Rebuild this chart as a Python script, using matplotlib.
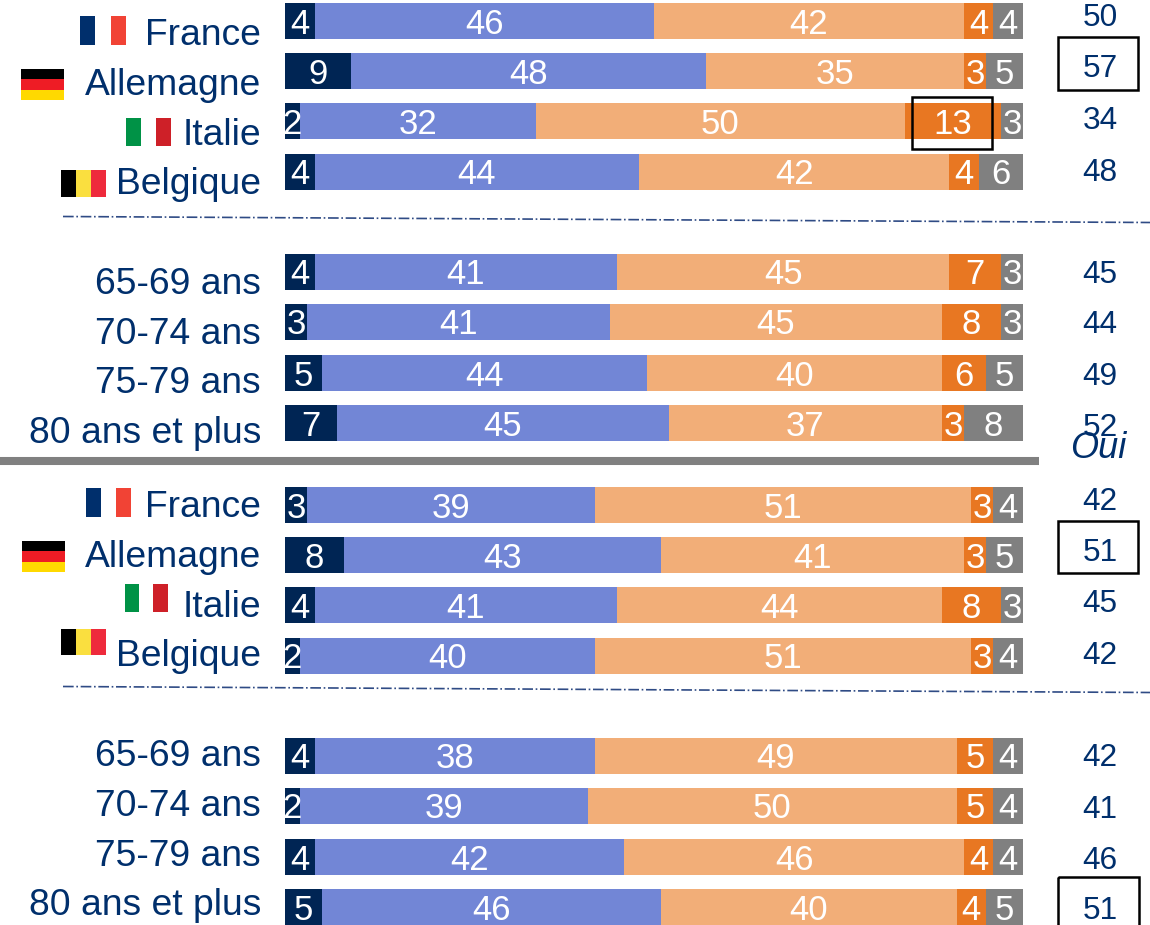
import matplotlib
matplotlib.use("Agg")
import numpy as np
from matplotlib import pyplot as plt
from matplotlib.patches import Rectangle

plt.rcParams["font.family"] = ["Liberation Sans", "DejaVu Sans"]

labels = ["France", "Allemagne", "Italie", "Belgique",
          "65-69 ans", "70-74 ans", "75-79 ans", "80 ans et plus",
          "France", "Allemagne", "Italie", "Belgique",
          "65-69 ans", "70-74 ans", "75-79 ans", "80 ans et plus"]

# the five answer shares, one list per segment
seg1 = [4, 9, 2, 4, 4, 3, 5, 7, 3, 8, 4, 2, 4, 2, 4, 5]
seg2 = [46, 48, 32, 44, 41, 41, 44, 45, 39, 43, 41, 40, 38, 39, 42, 46]
seg3 = [42, 35, 50, 42, 45, 45, 40, 37, 51, 41, 44, 51, 49, 50, 46, 40]
seg4 = [4, 3, 13, 4, 7, 8, 6, 3, 3, 3, 8, 3, 5, 5, 4, 4]
seg5 = [4, 5, 3, 6, 3, 3, 5, 8, 4, 5, 3, 4, 4, 4, 4, 5]
oui = [50, 57, 34, 48, 45, 44, 49, 52, 42, 51, 45, 42, 42, 41, 46, 51]

colors = ["#002554", "#7286D6", "#F2AE78", "#E87722", "#808080"]
navy = "#002F6C"

# layout in pixels of the original slide
bar_y = [21, 71, 121, 172, 272, 322, 373, 423, 505, 555, 605, 656, 756, 806, 857, 907]
label_base = [45, 95, 145, 194, 294, 344, 393, 443, 517, 567, 617, 666, 766, 816, 866, 915]
oui_y = [18, 69, 121, 173, 275, 325, 377, 428, 502, 553, 604, 656, 758, 810, 861, 911]

fig = plt.figure(figsize=(11.5, 9.25), dpi=100)

# bars: x axis is the percentage, 0-100 spans pixels 285-1023
ax = fig.add_axes((285 / 1150, 0, 738 / 1150, 1))
ax.set_xlim(0, 100)
ax.set_ylim(925, 0)
ax.axis("off")

left = np.zeros(len(labels))
for values, color in zip([seg1, seg2, seg3, seg4, seg5], colors):
    ax.barh(bar_y, values, left=left, height=36, color=color, linewidth=0)
    for y, v, l in zip(bar_y, values, left):
        ax.text(l + v / 2, y + 3, str(v), color="white", fontsize=25, ha="center", va="center")
    left += values

# overlay in pixels for labels, flags, boxes
over = fig.add_axes((0, 0, 1, 1))
over.set_xlim(0, 1150)
over.set_ylim(925, 0)
over.axis("off")
over.patch.set_alpha(0)

for name, y in zip(labels, label_base):
    over.text(261, y, name, color=navy, fontsize=26.8, ha="right", va="baseline")

for v, y in zip(oui, oui_y):
    over.text(1100, y, str(v), color=navy, fontsize=22.8, ha="center", va="center")

over.text(1098, 448, "Oui", color=navy, fontsize=26, style="italic", ha="center", va="center")


def flag_v(x0, x1, y0, y1, cols):
    w = (x1 - x0) / len(cols)
    for i, c in enumerate(cols):
        over.add_patch(Rectangle((x0 + i * w, y0), w, y1 - y0, color=c, linewidth=0))


def flag_h(x0, x1, y0, y1, cols):
    h = (y1 - y0) / len(cols)
    for i, c in enumerate(cols):
        over.add_patch(Rectangle((x0, y0 + i * h), x1 - x0, h, color=c, linewidth=0))


fr = ["#002F6C", "white", "#F14335"]
it = ["#009246", "white", "#CE2028"]
be = ["black", "#FADF3F", "#EE2A3C"]
de = ["black", "#EE1C25", "#FFD900"]

flag_v(79.5, 126, 15.5, 45, fr)
flag_h(20.5, 63.5, 68.5, 100, de)
flag_v(126, 171, 118, 146, it)
flag_v(61, 106, 170, 197, be)
flag_v(85.5, 131, 487.5, 517, fr)
flag_h(21.5, 64.5, 540.5, 572, de)
flag_v(124.5, 167.5, 583.5, 612, it)
flag_v(61, 106, 629, 655, be)

# separators
over.plot([0, 1039], [460.5, 460.5], color="#808080", linewidth=5.8, solid_capstyle="butt")
over.plot([63, 1150], [216.5, 222.5], color="#2F4B85", linewidth=1.2, linestyle="-.")
over.plot([63, 1150], [686.5, 692.5], color="#2F4B85", linewidth=1.2, linestyle="-.")

# highlight boxes
for x0, y0, x1, y1 in [(1058, 37, 1138, 90), (912, 97, 992, 149),
                       (1058, 521, 1138, 573), (1058, 877, 1139, 945)]:
    over.add_patch(Rectangle((x0, y0), x1 - x0, y1 - y0, fill=False, edgecolor="black", linewidth=1.8))

fig.savefig("out.png", dpi=100)
